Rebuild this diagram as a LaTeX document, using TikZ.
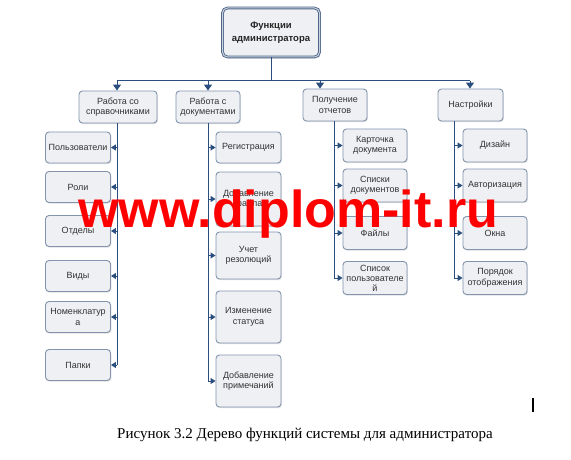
\documentclass[tikz,border=0pt]{standalone}
\usepackage{fontspec}
\setmainfont{Liberation Serif}
\setsansfont{Liberation Sans}
\usetikzlibrary{arrows.meta,shadows}
\definecolor{linecol}{HTML}{2A4E7E}
\definecolor{boxbd}{HTML}{8395AE}
\definecolor{boxfill}{HTML}{EEF0F3}
\definecolor{boxtext}{HTML}{333333}
\definecolor{topbd}{HTML}{506688}
\definecolor{topin}{HTML}{C9D3E1}
\begin{document}
\begin{tikzpicture}[x=1pt,y=-1pt,
  box/.style={draw=boxbd, fill=boxfill, rounded corners=3.5pt, line width=0.9pt,
    align=center, inner sep=0.5pt, text=boxtext,
    font=\sffamily\fontsize{9}{10.5}\selectfont,
    drop shadow={shadow xshift=0.8pt,shadow yshift=-1.2pt,opacity=0.25}},
  topbox/.style={draw=topbd, fill=boxfill, rounded corners=5pt, line width=0.9pt,
    double=topin, double distance=1pt, align=center, inner sep=0.5pt, text=black!85,
    font=\sffamily\bfseries\fontsize{9.5}{12.5}\selectfont,
    drop shadow={shadow xshift=1pt,shadow yshift=-1.5pt,opacity=0.25}},
  conn/.style={draw=linecol, line width=1pt},
  arr/.style={draw=linecol, line width=1pt, -{Triangle[length=5pt,width=6pt]}},
  darr/.style={draw=linecol, line width=1pt, -{Triangle[length=6pt,width=8pt]}},
  c1/.style={box, minimum width=65pt, minimum height=31pt},
  c2/.style={box, minimum width=65pt},
  c3/.style={box, minimum width=64pt, minimum height=33pt},
  l1/.style={box, minimum height=32pt}
]
\fill[white] (0,0) rectangle (571,460);
\useasboundingbox (0,0) rectangle (571,460);

% top
\node[topbox, minimum width=97pt, minimum height=49pt] (top) at (271,32.5) {Функции\\администратора};

% level 1
\node[l1, minimum width=78pt] (n1) at (118,107) {Работа со\\справочниками};
\node[l1, minimum width=64pt] (n2) at (208,107) {Работа с\\документами};
\node[l1, minimum width=64pt] (n3) at (335,105) {Получение\\отчетов};
\node[l1, minimum width=65pt] (n4) at (470.5,105) {Настройки};

% column 1
\node[c1] (a1) at (78,147.5) {Пользователи};
\node[c1] (a2) at (78,187) {Роли};
\node[c1] (a3) at (78,231) {Отделы};
\node[c1] (a4) at (78,276) {Виды};
\node[c1] (a5) at (78,317) {Номенклатур\\а};
\node[c1] (a6) at (78,365) {Папки};

% column 2
\node[c2, minimum height=31pt] (b1) at (248.5,147.5) {Регистрация};
\node[c2, minimum height=54pt] (b2) at (248.5,199) {Добавление\\файла};
\node[c2, minimum height=47pt] (b3) at (248.5,255.5) {Учет\\резолюций};
\node[c2, minimum height=52pt] (b4) at (248.5,317) {Изменение\\статуса};
\node[c2, minimum height=52pt] (b5) at (248.5,381) {Добавление\\примечаний};

% column 3
\node[c3] (d1) at (375,145.5) {Карточка\\документа};
\node[c3] (d2) at (375,185.5) {Списки\\документов};
\node[c3] (d3) at (375,233) {Файлы};
\node[c3, font=\sffamily\fontsize{9}{10}\selectfont] (d4) at (375,278) {Список\\пользователе\\й};

% column 4
\node[c3] (e1) at (495,145.5) {Дизайн};
\node[c3] (e2) at (495,185.5) {Авторизация};
\node[c3] (e3) at (495,233) {Окна};
\node[c3] (e4) at (495,278) {Порядок\\отображения};

% bus
\coordinate (j0) at (271,81);
\coordinate (j1) at (117,81);
\coordinate (j2) at (208,81);
\coordinate (j3) at (320,81);
\coordinate (j4) at (470,81);
\draw[conn] (top.south -| j0) -- (j0);
\draw[conn] (j1) -- (j4);
\draw[darr] (j1) -- (j1 |- n1.north);
\draw[darr] (j2) -- (j2 |- n2.north);
\draw[darr] (j3) -- (j3 |- n3.north);
\draw[darr] (j4) -- (j4 |- n4.north);

% spines
\coordinate (s1) at (117,0);
\coordinate (s2) at (208,0);
\coordinate (s3) at (334,0);
\coordinate (s4) at (454,0);
\draw[conn] (n1.south -| s1) -- (a6.east -| s1);
\draw[conn] (n2.south -| s2) -- (b5.west -| s2);
\draw[conn] (n3.south -| s3) -- (d4.west -| s3);
\draw[conn] (n4.south -| s4) -- (e4.west -| s4);

\foreach \c in {a1,a2,a3,a4,a5,a6} \draw[arr] (\c.east -| s1) -- (\c.east);
\foreach \c in {b1,b2,b3,b4,b5} \draw[arr] (\c.west -| s2) -- (\c.west);
\foreach \c in {d1,d2,d3,d4} \draw[arr] (\c.west -| s3) -- (\c.west);
\foreach \c in {e1,e2,e3,e4} \draw[arr] (\c.west -| s4) -- (\c.west);

% watermark
\node[font=\sffamily\bfseries\fontsize{52}{52}\selectfont, text=red, anchor=base west, inner sep=0pt] (wm) at (78,227) {www.diplom-it.ru};

% caption
\node[font=\fontsize{15}{15}\selectfont, anchor=base, inner sep=0pt] (cap) at (305,438) {Рисунок 3.2 Дерево функций системы для администратора};

% cursor mark
\coordinate (cu1) at (533,398);
\coordinate (cu2) at (533,412);
\draw[line width=1.3pt] (cu1) -- (cu2);
\end{tikzpicture}
\end{document}
